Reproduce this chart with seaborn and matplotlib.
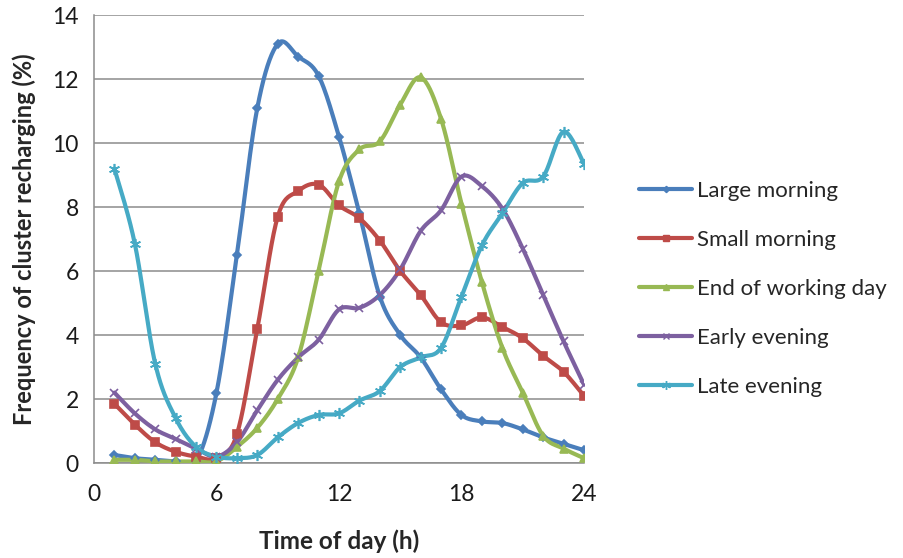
import numpy as np
import pandas as pd
import matplotlib
matplotlib.use("Agg")
import matplotlib.pyplot as plt
import seaborn as sns

# Hourly share of cluster recharging events (%) for each user cluster
hours = list(range(1, 25))
large_morning = [0.25, 0.15, 0.1, 0.05, 0.05, 2.2, 6.5, 11.1, 13.1, 12.7, 12.1, 10.2,
                 7.8, 5.2, 4.0, 3.3, 2.3, 1.5, 1.3, 1.25, 1.05, 0.8, 0.6, 0.4]
small_morning = [1.85, 1.2, 0.65, 0.35, 0.2, 0.15, 0.9, 4.2, 7.7, 8.5, 8.7, 8.05,
                 7.65, 6.95, 6.0, 5.25, 4.4, 4.3, 4.55, 4.25, 3.9, 3.35, 2.85, 2.1]
end_of_day = [0.1, 0.1, 0.05, 0.05, 0.05, 0.05, 0.5, 1.1, 2.0, 3.3, 6.0, 8.8,
              9.8, 10.05, 11.2, 12.05, 10.75, 8.1, 5.65, 3.6, 2.2, 0.85, 0.45, 0.15]
early_evening = [2.2, 1.55, 1.05, 0.75, 0.45, 0.2, 0.65, 1.65, 2.6, 3.3, 3.85, 4.8,
                 4.85, 5.25, 6.05, 7.25, 7.9, 8.95, 8.65, 7.95, 6.7, 5.25, 3.8, 2.45]
late_evening = [9.2, 6.85, 3.1, 1.4, 0.5, 0.2, 0.15, 0.25, 0.8, 1.25, 1.5, 1.55,
                1.95, 2.25, 3.0, 3.3, 3.6, 5.2, 6.8, 7.8, 8.75, 8.95, 10.35, 9.35]

series_names = ["Large morning", "Small morning", "End of working day",
                "Early evening", "Late evening"]
series_values = [large_morning, small_morning, end_of_day, early_evening, late_evening]
colors = ["#4A7EBB", "#BE4B48", "#98B954", "#7D60A0", "#46AAC5"]
markers = ["D", "s", "^", "x", (6, 2, 0)]
marker_sizes = [4, 6, 6, 6, 8]

x_ticks = [0, 6, 12, 18, 24]
y_ticks = [0, 2, 4, 6, 8, 10, 12, 14]


def smooth(xs, ys, steps=20):
    """Cubic Bezier smoothing through every point (Catmull-Rom style)."""
    p = np.column_stack([xs, ys]).astype(float)
    p_ext = np.vstack([p[0], p, p[-1]])
    out = []
    t = np.linspace(0, 1, steps, endpoint=False)[:, None]
    for i in range(len(p) - 1):
        p0, p1, p2, p3 = p_ext[i], p_ext[i + 1], p_ext[i + 2], p_ext[i + 3]
        c1 = p1 + (p2 - p0) / 6.0
        c2 = p2 - (p3 - p1) / 6.0
        seg = ((1 - t) ** 3) * p1 + 3 * ((1 - t) ** 2) * t * c1 + 3 * (1 - t) * t ** 2 * c2 + t ** 3 * p2
        out.append(seg)
    out.append(p[-1][None, :])
    return np.vstack(out)


rows = []
for name, vals in zip(series_names, series_values):
    for h, v in zip(hours, vals):
        rows.append({"hour": h, "value": v, "cluster": name})
points = pd.DataFrame(rows)

curve_rows = []
for name, vals in zip(series_names, series_values):
    c = smooth(hours, vals)
    curve_rows.append(pd.DataFrame({"hour": c[:, 0], "value": c[:, 1], "cluster": name}))
curves = pd.concat(curve_rows, ignore_index=True)

sns.set_style("white")
plt.rcParams["font.family"] = ["Lato", "DejaVu Sans"]

fig = plt.figure(figsize=(9.04, 5.58), dpi=100)
ax = fig.add_axes([94 / 904, 1 - 463 / 558, 490 / 904, 448 / 558])

palette = dict(zip(series_names, colors))
sns.lineplot(data=curves, x="hour", y="value", hue="cluster", palette=palette,
             units="cluster", estimator=None, sort=False, lw=3.0, legend=False, ax=ax,
             zorder=3)

for name, col, mk, ms in zip(series_names, colors, markers, marker_sizes):
    sub = points[points["cluster"] == name]
    ax.plot(sub["hour"], sub["value"], linestyle="none", marker=mk, markersize=ms,
            color=col, markeredgecolor=col, markeredgewidth=1.2, zorder=4)

ax.set_xlim(0, 24)
ax.set_ylim(0, 14)
ax.set_xticks(x_ticks)
ax.set_yticks(y_ticks)
ax.yaxis.grid(True, color="#8C8C8C", linewidth=1.1)
ax.xaxis.grid(False)
for side in ["top", "right"]:
    ax.spines[side].set_visible(False)
for side in ["left", "bottom"]:
    ax.spines[side].set_color("#8C8C8C")
    ax.spines[side].set_linewidth(1.1)
ax.tick_params(axis="both", which="both", direction="out", length=5, width=1.1,
               color="#8C8C8C", labelsize=16.5, labelcolor="#1a1a1a", pad=6)
ax.tick_params(axis="x", pad=10)

ax.set_xlabel("Time of day (h)", fontsize=17.5, fontweight="bold", labelpad=18)
ax.set_ylabel("Frequency of cluster recharging (%)", fontsize=17, fontweight="bold", labelpad=12)

handles = []
for name, col, mk, ms in zip(series_names, colors, markers, marker_sizes):
    h, = ax.plot([], [], color=col, lw=3.0, marker=mk, markersize=ms,
                 markeredgecolor=col, label=name)
    handles.append(h)
fig.legend(handles=handles, loc="center left", bbox_to_anchor=(619 / 904, 1 - 289 / 558),
           frameon=False, fontsize=16, handlelength=2.4, handletextpad=0.2,
           labelspacing=1.3, markerscale=0.8)

fig.savefig("out.png", dpi=100)
